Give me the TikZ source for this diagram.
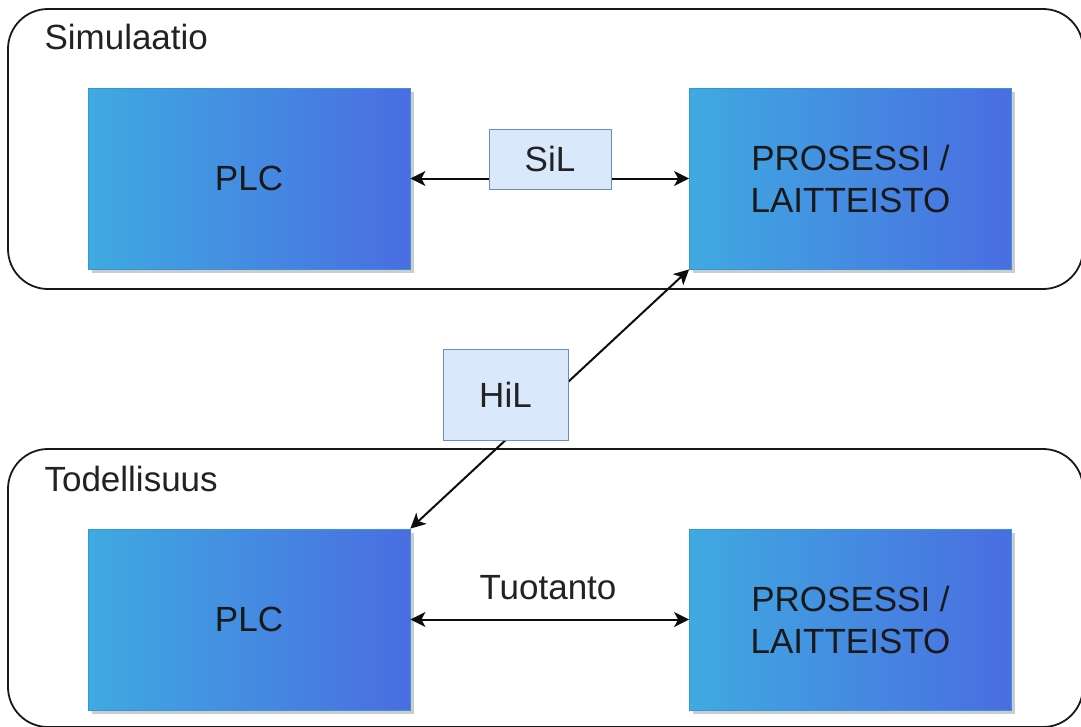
\documentclass[tikz,border=0pt]{standalone}
\usepackage{fontspec}
\setmainfont{Liberation Sans}
\usetikzlibrary{arrows.meta,shadows}
\definecolor{boxleft}{HTML}{3FAAE1}
\definecolor{boxright}{HTML}{4A6DE1}
\definecolor{boxline}{HTML}{3296D8}
\definecolor{tagfill}{HTML}{DAE8FC}
\definecolor{tagline}{HTML}{6C8EBF}
\definecolor{ink}{HTML}{222222}
\begin{document}
\begin{tikzpicture}[x=1pt,y=-1pt,
  every node/.style={font=\fontsize{35}{42}\selectfont, text=ink},
  area/.style={draw=black!90, line width=1.8pt, rounded corners=40pt,
    minimum width=1075pt, inner sep=0pt},
  unit/.style={left color=boxleft, right color=boxright, draw=boxline,
    line width=0.8pt, minimum width=322pt, minimum height=181pt,
    align=center, text=black!90,
    general shadow={fill=black!20, shadow xshift=3.5pt, shadow yshift=-3.5pt}},
  tag/.style={fill=tagfill, draw=tagline, line width=1pt, inner sep=0pt},
  conn/.style={line width=2pt, draw=black!95,
    {Stealth[length=15pt,width=15pt,inset=4pt]}-{Stealth[length=15pt,width=15pt,inset=4pt]}},
]
\useasboundingbox (0,0) rectangle (1081,726);

% containers
\node[area, minimum height=280pt] (sim) at (545.5,149) {};
\node[area, minimum height=278pt] (real) at (545.5,588) {};
\node[anchor=west] (simname) at (41,37) {Simulaatio};
\node[anchor=west] (realname) at (41,479) {Todellisuus};

% blocks
\node[unit] (plcA) at (249,178.5) {PLC};
\node[unit] (proA) at (850.5,178.5) {PROSESSI /\\LAITTEISTO};
\node[unit] (plcB) at (249,619.5) {PLC};
\node[unit] (proB) at (850.5,619.5) {PROSESSI /\\LAITTEISTO};

% links
\draw[conn] (plcA.east) -- (proA.west);
\draw[conn] (plcB.north east) -- (proA.south west);
\draw[conn] (plcB.east) -- (proB.west);

% link labels
\node[tag, minimum width=122pt, minimum height=60pt] (sil) at (550,159) {SiL};
\node[tag, minimum width=125pt, minimum height=91pt] (hil) at (505.5,394.5) {HiL};
\node (tuo) at (548,588) {Tuotanto};
\end{tikzpicture}
\end{document}
